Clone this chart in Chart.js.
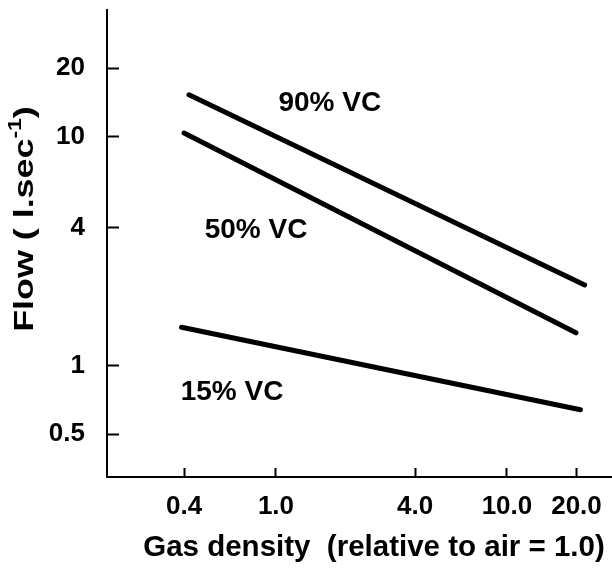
<!DOCTYPE html>
<html>
<head>
<meta charset="utf-8">
<script src="https://cdn.jsdelivr.net/npm/chart.js@4"></script>
<style>
  body { margin:0; background:#fff; }
</style>
</head>
<body>
<canvas id="chartFlow" width="612" height="573"></canvas>
<script>
// data (log-log axes)
var xTicks = [0.4, 1, 4, 10, 20];
var xTickLabels = ["0.4", "1.0", "4.0", "10.0", "20.0"];
var yTicks = [0.5, 1, 4, 10, 20];
var yTickLabels = ["0.5", "1", "4", "10", "20"];

var density90 = [0.42, 21.7];
var flow90 = [15.3, 2.25];
var density50 = [0.40, 19.9];
var flow50 = [10.4, 1.39];
var density15 = [0.39, 20.8];
var flow15 = [1.47, 0.64];

var curveNames = ["90% VC", "50% VC", "15% VC"];
var xTitle = "Gas density  (relative to air = 1.0)";

var FONT = '"Liberation Sans", Arial, Helvetica, sans-serif';

function pairs(xs, ys) {
    return xs.map(function (v, i) { return {x: v, y: ys[i]}; });
}

function lineSet(name, xs, ys) {
    return {
        label: name,
        data: pairs(xs, ys),
        borderColor: '#000',
        backgroundColor: '#000',
        borderWidth: 5,
        borderCapStyle: 'round',
        pointRadius: 0,
        tension: 0
    };
}

// the tick label padding would otherwise push the chart area in
function noPad(s) {
    s.paddingLeft = 0; s.paddingRight = 0;
    s.paddingTop = 0; s.paddingBottom = 0;
}

// labels + axis titles, drawn on top
var textPlugin = {
    id: 'texts',
    afterDraw: function (chart) {
        var ctx = chart.ctx;
        var xs = chart.scales.x, ys = chart.scales.y;
        // where the curve names sit, in data units
        var spots = [[1.71, 14.1], [0.82, 3.92], [0.645, 0.766]];
        ctx.save();
        ctx.fillStyle = '#000';
        ctx.textAlign = 'center';
        ctx.textBaseline = 'middle';
        ctx.font = 'bold 28px ' + FONT;
        curveNames.forEach(function (t, i) {
            ctx.fillText(t, xs.getPixelForValue(spots[i][0]), ys.getPixelForValue(spots[i][1]));
        });

        ctx.font = 'bold 29.5px ' + FONT;
        ctx.fillText(xTitle, 374, 548);

        // y title with superscript -1
        ctx.translate(23, 219);
        ctx.rotate(-Math.PI / 2);
        ctx.scale(1.28, 1);
        var main = "Flow ( l.sec", sup = "-1", tail = ")";
        ctx.font = 'bold 28px ' + FONT;
        var w1 = ctx.measureText(main).width, w3 = ctx.measureText(tail).width;
        ctx.font = 'bold 18px ' + FONT;
        var w2 = ctx.measureText(sup).width;
        var x0 = -(w1 + w2 + w3) / 2;
        ctx.textAlign = 'left';
        ctx.textBaseline = 'alphabetic';
        ctx.font = 'bold 28px ' + FONT;
        ctx.fillText(main, x0, 10);
        ctx.font = 'bold 18px ' + FONT;
        ctx.fillText(sup, x0 + w1, -2);
        ctx.font = 'bold 28px ' + FONT;
        ctx.fillText(tail, x0 + w1 + w2, 10);
        ctx.restore();
    }
};

var ctx = document.getElementById("chartFlow");
var chartFlow = new Chart(ctx, {
    type: "line",
    data: {
        datasets: [
            lineSet("90% VC", density90, flow90),
            lineSet("50% VC", density50, flow50),
            lineSet("15% VC", density15, flow15)
        ]
    },
    options: {
        responsive: false,
        devicePixelRatio: 1,
        animation: false,
        layout: { padding: { top: 10, right: 0, left: 0, bottom: 0 } },
        plugins: {
            legend: { display: false },
            tooltip: { enabled: false }
        },
        scales: {
            x: {
                type: 'logarithmic',
                bounds: 'data',
                min: 0.1855,
                max: 28.5,
                afterFit: function (s) { s.height = 96; noPad(s); },
                afterBuildTicks: function (s) {
                    s.ticks = xTicks.map(function (v) { return {value: v}; });
                },
                ticks: {
                    autoSkip: false,
                    maxRotation: 0,
                    padding: 23,
                    color: '#000',
                    font: { family: FONT, size: 26, weight: 'bold' },
                    callback: function (v) { return xTickLabels[xTicks.indexOf(v)]; }
                },
                grid: { drawOnChartArea: false, tickLength: -9, tickWidth: 2, color: '#000' },
                border: { display: true, color: '#000', width: 2 }
            },
            y: {
                type: 'logarithmic',
                bounds: 'data',
                min: 0.325,
                max: 35.96,
                afterFit: function (s) { s.width = 107; noPad(s); },
                afterBuildTicks: function (s) {
                    s.ticks = yTicks.map(function (v) { return {value: v}; });
                },
                ticks: {
                    autoSkip: false,
                    padding: 34,
                    color: '#000',
                    font: { family: FONT, size: 26, weight: 'bold' },
                    callback: function (v) { return yTickLabels[yTicks.indexOf(v)]; }
                },
                grid: { drawOnChartArea: false, tickLength: -12, tickWidth: 2, color: '#000' },
                border: { display: true, color: '#000', width: 2 }
            }
        }
    },
    plugins: [textPlugin]
});
</script>
</body>
</html>
